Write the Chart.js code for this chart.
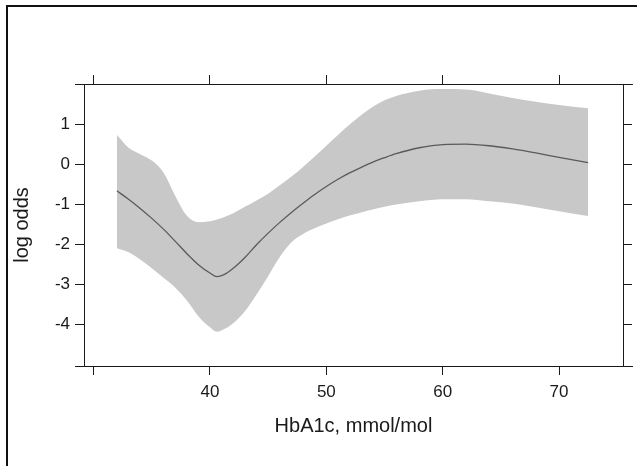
<!DOCTYPE html>
<html><head><meta charset="utf-8">
<script src="https://cdn.jsdelivr.net/npm/chart.js@4.4.1/dist/chart.umd.min.js"></script>
<style>
html,body{margin:0;padding:0;background:#fff;overflow:hidden;}
#wrap{position:relative;width:637px;height:466px;background:#fff;}
#frame{position:absolute;left:6px;top:5px;width:700px;height:500px;border-top:2px solid #111;border-left:2px solid #111;pointer-events:none;}
canvas{position:absolute;left:0;top:0;}
</style></head><body>
<div id="wrap"><canvas id="c" width="637" height="466"></canvas><div id="frame"></div></div>
<script>
const hba1c   = [32, 33, 34, 35, 36, 37, 38, 39, 40, 40.6, 41.2, 42, 43, 44, 45, 46, 47, 48, 49, 50, 51, 52, 53, 54, 55, 56, 58, 60, 62, 64, 66, 68, 70, 72.5];
const logOdds = [-0.66, -0.87, -1.1, -1.35, -1.62, -1.92, -2.23, -2.51, -2.72, -2.81, -2.76, -2.6, -2.33, -2.01, -1.72, -1.45, -1.2, -0.97, -0.75, -0.55, -0.37, -0.21, -0.07, 0.06, 0.17, 0.27, 0.42, 0.5, 0.51, 0.47, 0.39, 0.29, 0.18, 0.05];
const upperCI = [0.74, 0.42, 0.26, 0.1, -0.2, -0.78, -1.28, -1.45, -1.42, -1.38, -1.32, -1.22, -1.06, -0.9, -0.73, -0.52, -0.3, -0.06, 0.2, 0.47, 0.74, 1.0, 1.24, 1.45, 1.61, 1.72, 1.85, 1.89, 1.88, 1.78, 1.67, 1.57, 1.49, 1.41];
const lowerCI = [-2.10, -2.2, -2.38, -2.6, -2.84, -3.08, -3.4, -3.8, -4.08, -4.19, -4.13, -3.98, -3.68, -3.26, -2.8, -2.32, -1.95, -1.74, -1.6, -1.48, -1.37, -1.28, -1.2, -1.13, -1.06, -1.0, -0.92, -0.87, -0.87, -0.92, -0.98, -1.07, -1.17, -1.29];
const xTicks = [30, 40, 50, 60, 70];
const xLabeled = [40, 50, 60, 70];
const yTicks = [-4, -3, -2, -1, 0, 1];
const xTitle = 'HbA1c, mmol/mol';
const yTitle = 'log odds';

const X_MIN = 29.17, X_MAX = 75.5, Y_MIN = -5.05, Y_MAX = 2.018;
const AX = '#1a1a1a', TXT = '#1a1a1a';
const FONT = 'Liberation Sans, Arial, sans-serif';

const pts = arr => hba1c.map((x, i) => ({x, y: arr[i]}));

const extendLines = {
  id: 'extendLines',
  afterDraw(chart) {
    const {ctx, chartArea: a} = chart;
    ctx.save();
    ctx.strokeStyle = AX;
    ctx.lineWidth = 1;
    [a.top, a.bottom].forEach(y => {
      const yy = Math.round(y) + 0.5;
      ctx.beginPath();
      ctx.moveTo(a.left - 9, yy);
      ctx.lineTo(a.right + 10, yy);
      ctx.stroke();
    });
    ctx.restore();
  }
};

const tickGrid = {display: true, drawOnChartArea: false, drawTicks: true, tickLength: 9, color: AX, lineWidth: 1};
const border = {display: true, color: AX, width: 1};

new Chart(document.getElementById('c'), {
  type: 'line',
  data: {
    datasets: [
      {data: pts(logOdds), borderColor: '#5a5a5a', borderWidth: 1.3, pointRadius: 0, fill: false, cubicInterpolationMode: 'monotone'},
      {data: pts(upperCI), borderWidth: 0, borderColor: 'rgba(0,0,0,0)', pointRadius: 0, backgroundColor: '#c8c8c8', fill: '+1', cubicInterpolationMode: 'monotone'},
      {data: pts(lowerCI), borderWidth: 0, borderColor: 'rgba(0,0,0,0)', pointRadius: 0, fill: false, cubicInterpolationMode: 'monotone'}
    ]
  },
  options: {
    responsive: false,
    animation: false,
    devicePixelRatio: 1,
    layout: {padding: 0},
    plugins: {legend: {display: false}, tooltip: {enabled: false}},
    scales: {
      x: {
        type: 'linear', position: 'bottom', min: X_MIN, max: X_MAX,
        afterBuildTicks: s => { s.ticks = xTicks.map(v => ({value: v})); },
        afterFit: s => { s.height = 100; },
        grid: tickGrid, border: border,
        ticks: {color: TXT, font: {family: FONT, size: 17}, padding: 7, maxRotation: 0,
          callback: v => xLabeled.includes(v) ? String(v) : ''},
        title: {display: true, text: xTitle, color: TXT, font: {family: FONT, size: 20, lineHeight: 1.2}, padding: {top: 0, bottom: 28}}
      },
      x2: {
        type: 'linear', position: 'top', min: X_MIN, max: X_MAX,
        afterBuildTicks: s => { s.ticks = xTicks.map(v => ({value: v})); },
        afterFit: s => { s.height = 84; },
        grid: tickGrid, border: border,
        ticks: {callback: () => '', font: {size: 1}}
      },
      y: {
        type: 'linear', position: 'left', min: Y_MIN, max: Y_MAX,
        afterBuildTicks: s => { s.ticks = yTicks.map(v => ({value: v})); },
        afterFit: s => { s.width = 84; },
        grid: tickGrid, border: border,
        ticks: {color: TXT, font: {family: FONT, size: 17}, padding: 5, callback: v => String(v)},
        title: {display: true, text: yTitle, color: TXT, font: {family: FONT, size: 20, lineHeight: 1.2}, padding: {top: 10, bottom: 0}}
      },
      y2: {
        type: 'linear', position: 'right', min: Y_MIN, max: Y_MAX,
        afterBuildTicks: s => { s.ticks = yTicks.map(v => ({value: v})); },
        afterFit: s => { s.width = 14; },
        grid: tickGrid, border: border,
        ticks: {callback: () => '', font: {size: 1}}
      }
    }
  },
  plugins: [extendLines]
});
</script>
</body></html>
